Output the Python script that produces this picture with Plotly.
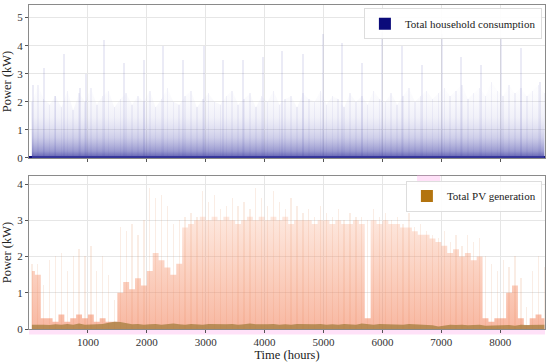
import plotly.graph_objects as go

# ---------------- data ----------------
bin_hours = [50 + 100 * i for i in range(88)]  # centre of each 100-hour bin

# household consumption: envelope of the dense body per 100-h bin (kW)
hh_body_kw = [2.0, 2.6, 2.1, 1.9, 2.2, 1.8, 2.4, 1.7, 2.3, 2.0,
              2.5, 1.9, 2.2, 2.4, 1.8, 2.1, 2.3, 1.9, 2.2, 2.0,
              2.4, 1.8, 2.1, 2.5, 2.0, 1.9, 2.2, 2.4, 1.8, 2.1,
              2.3, 2.0, 1.9, 2.2, 2.4, 1.9, 2.1, 2.3, 1.8, 2.2,
              2.0, 2.4, 1.9, 2.1, 2.2, 1.8, 2.3, 2.1, 2.0, 2.4,
              1.9, 2.2, 2.1, 1.8, 2.3, 2.0, 2.2, 1.9, 2.4, 2.1,
              2.0, 2.3, 1.9, 2.2, 2.5, 2.0, 2.2, 2.4, 2.1, 2.3,
              2.5, 2.2, 2.4, 2.6, 2.1, 2.3, 2.5, 2.2, 2.7, 2.4,
              2.2, 2.6, 2.3, 2.5, 2.2, 2.4, 2.6, 2.3]
hh_base_kw = [0.05] * 88

# tall isolated consumption spikes
hh_spike_hours = [68, 255, 441, 594, 866, 968, 1273, 1613, 1953, 2275,
                  2615, 2972, 3294, 3634, 3973, 4296, 4653, 4992, 5315, 5654,
                  5994, 6334, 6673, 7013, 7335, 7675, 8015, 8354, 8677]
hh_spike_kw = [2.6, 3.2, 2.2, 3.7, 2.5, 3.0, 4.2, 3.4, 3.5, 4.0,
               3.5, 4.0, 3.5, 3.5, 3.6, 3.8, 3.7, 4.4, 4.1, 3.4,
               4.5, 4.0, 3.3, 4.4, 3.6, 3.3, 4.3, 3.9, 2.7]

# PV generation: spike envelope and dense-fill height per 100-h bin (kW)
pv_peak_kw = [1.8, 1.8, 1.2, 1.9, 2.0, 2.1, 1.6, 2.0, 2.2, 2.0,
              2.3, 1.6, 2.0, 1.5, 0.8, 2.8, 2.7, 2.9, 2.6, 3.0,
              3.9, 3.6, 3.7, 3.4, 2.9, 3.0, 3.1, 3.2, 3.1, 3.8,
              3.5, 3.7, 3.3, 3.4, 3.6, 3.4, 3.5, 3.3, 3.9, 3.6,
              3.4, 3.8, 3.5, 3.3, 3.6, 3.4, 3.2, 3.3, 3.1, 3.4,
              3.2, 3.1, 3.3, 3.0, 3.2, 3.1, 3.1, 3.0, 3.3, 3.1,
              3.2, 3.0, 3.1, 2.9, 3.2, 2.8, 2.9, 2.7, 2.6, 2.5,
              2.7, 2.4, 2.6, 2.3, 2.6, 2.4, 2.5, 2.0, 1.8, 1.6,
              1.9, 1.7, 2.0, 1.4, 0.6, 1.6, 2.0, 1.7]
pv_dense_kw = [1.6, 1.5, 0.3, 0.3, 0.2, 0.4, 0.2, 0.3, 0.4, 0.3,
               0.4, 0.2, 0.3, 0.2, 0.2, 1.0, 1.3, 1.1, 1.4, 1.2,
               1.6, 2.1, 1.9, 1.7, 1.5, 1.8, 2.8, 2.9, 3.0, 3.1,
               3.0, 3.1, 3.0, 3.1, 3.0, 2.9, 3.0, 3.1, 3.0, 3.1,
               3.0, 3.1, 3.0, 3.1, 2.9, 3.0, 3.0, 3.0, 2.9, 3.0,
               3.0, 2.9, 3.0, 2.9, 2.9, 3.0, 2.9, 0.3, 3.0, 2.9,
               3.0, 2.9, 2.9, 2.8, 2.8, 2.7, 2.6, 2.6, 2.5, 2.4,
               2.3, 2.1, 2.2, 2.0, 2.1, 1.9, 2.0, 0.3, 0.2, 0.3,
               0.3, 1.0, 1.2, 0.3, 0.1, 0.3, 0.4, 0.3]
pv_base_kw = [0.12, 0.13, 0.12, 0.11, 0.13, 0.12, 0.14, 0.12, 0.15, 0.12,
              0.13, 0.12, 0.14, 0.17, 0.20, 0.19, 0.15, 0.13, 0.14, 0.12,
              0.13, 0.14, 0.12, 0.13, 0.15, 0.13, 0.12, 0.14, 0.13, 0.12,
              0.14, 0.13, 0.12, 0.13, 0.14, 0.12, 0.13, 0.15, 0.13, 0.12,
              0.13, 0.14, 0.12, 0.13, 0.12, 0.14, 0.13, 0.12, 0.13, 0.14,
              0.12, 0.13, 0.12, 0.14, 0.13, 0.12, 0.15, 0.13, 0.12, 0.14,
              0.13, 0.12, 0.13, 0.12, 0.14, 0.13, 0.12, 0.13, 0.10, 0.07,
              0.10, 0.12, 0.11, 0.12, 0.10, 0.11, 0.12, 0.09, 0.10, 0.09,
              0.10, 0.11, 0.09, 0.12, 0.11, 0.12, 0.13, 0.12]

x_ticks = [1000, 2000, 3000, 4000, 5000, 6000, 7000, 8000]
hh_y_ticks = [0, 1, 2, 3, 4, 5]
pv_y_ticks = [0, 1, 2, 3, 4]

# ---------------- figure ----------------
FONT = "Liberation Serif"
fig = go.Figure()

# --- household (top) ---
fig.add_trace(go.Scatter(
    x=bin_hours, y=hh_body_kw, mode="lines", line=dict(width=0),
    fill="tozeroy", xaxis="x", yaxis="y", showlegend=False, hoverinfo="skip",
    fillgradient=dict(type="vertical", start=0, stop=2.4,
                      colorscale=[[0, "rgba(60,60,160,0.85)"],
                                  [0.1, "rgba(85,85,175,0.60)"],
                                  [0.3, "rgba(120,120,195,0.36)"],
                                  [0.6, "rgba(165,165,215,0.16)"],
                                  [1, "rgba(210,210,238,0.05)"]])))
fig.add_trace(go.Bar(
    x=bin_hours, y=hh_body_kw, width=26, xaxis="x", yaxis="y",
    marker=dict(color="rgba(30,30,150,0.06)", line=dict(width=0)),
    showlegend=False, hoverinfo="skip"))
fig.add_trace(go.Bar(
    x=hh_spike_hours, y=hh_spike_kw, width=22, xaxis="x", yaxis="y",
    marker=dict(color="rgba(30,30,150,0.09)", line=dict(width=0)),
    showlegend=False, hoverinfo="skip"))
fig.add_trace(go.Bar(
    x=bin_hours, y=hh_base_kw, width=100, xaxis="x", yaxis="y",
    marker=dict(color="#0b0b7a", line=dict(width=0)),
    name="Total household consumption", legend="legend"))

# --- PV (bottom) ---
fig.add_trace(go.Scatter(
    x=bin_hours, y=pv_dense_kw, mode="lines", line=dict(width=0, shape="hvh"),
    fill="tozeroy", xaxis="x2", yaxis="y2", showlegend=False, hoverinfo="skip",
    fillgradient=dict(type="vertical", start=0, stop=3.2,
                      colorscale=[[0, "rgba(242,125,85,0.55)"],
                                  [0.5, "rgba(245,140,100,0.40)"],
                                  [1, "rgba(248,165,130,0.25)"]])))
fig.add_trace(go.Bar(
    x=bin_hours, y=pv_peak_kw, width=22, xaxis="x2", yaxis="y2",
    marker=dict(color="rgba(225,150,100,0.17)", line=dict(width=0)),
    showlegend=False, hoverinfo="skip"))
fig.add_trace(go.Scatter(
    x=bin_hours, y=pv_base_kw, mode="lines", line=dict(width=0),
    fill="tozeroy", fillcolor="rgba(150,115,45,0.65)",
    xaxis="x2", yaxis="y2", showlegend=False, hoverinfo="skip"))
fig.add_trace(go.Bar(
    x=[None], y=[None], xaxis="x2", yaxis="y2",
    marker=dict(color="#b3740f", line=dict(width=0)),
    name="Total PV generation", legend="legend2"))

axis_common = dict(showline=True, linecolor="#8a8a8a", linewidth=1.2, mirror=True,
                   showgrid=True, gridcolor="#e6e6e6", gridwidth=1,
                   ticks="outside", ticklen=3, tickcolor="#555",
                   tickfont=dict(family=FONT, size=11, color="#333"),
                   zeroline=False, automargin=False)

title_font = dict(family=FONT, size=12.5, color="#222")
legend_common = dict(xanchor="right", yanchor="top", itemwidth=30,
                     bgcolor="rgba(255,255,255,0.9)", bordercolor="#dddddd", borderwidth=1,
                     font=dict(family=FONT, size=11, color="#222"),
                     tracegroupgap=0)

fig.update_layout(
    width=550, height=363,
    margin=dict(l=29, r=5, t=5, b=34, autoexpand=False),
    paper_bgcolor="white", plot_bgcolor="white",
    barmode="overlay", bargap=0,
    font=dict(family=FONT, size=11, color="#222"),
    xaxis=dict(domain=[0, 1], anchor="y", range=[0, 8760], tickvals=x_ticks,
               showticklabels=False, **axis_common),
    yaxis=dict(domain=[0.528, 1], anchor="x", range=[0, 5.45], tickvals=hh_y_ticks,
               title=dict(text="Power (kW)", font=title_font, standoff=4), **axis_common),
    xaxis2=dict(domain=[0, 1], anchor="y2", range=[0, 8760], tickvals=x_ticks,
                title=dict(text="Time (hours)", font=title_font, standoff=2), **axis_common),
    yaxis2=dict(domain=[0, 0.472], anchor="x2", range=[0, 4.22], tickvals=pv_y_ticks,
                title=dict(text="Power (kW)", font=title_font, standoff=4), **axis_common),
    legend=dict(x=0.994, y=0.99, **legend_common),
    legend2=dict(x=0.994, y=0.458, **legend_common),
    shapes=[
        dict(type="rect", xref="paper", yref="paper", x0=0, x1=1, y0=-0.017, y1=-0.003,
             fillcolor="rgba(255,170,235,0.35)", line=dict(width=0), layer="below"),
        dict(type="rect", xref="paper", yref="paper", x0=0.752, x1=0.797, y0=0.449, y1=0.475,
             fillcolor="rgba(255,170,235,0.35)", line=dict(width=0), layer="above"),
    ],
)

# the page's default 8px body margin would shift the 550x363 figure; remove it
fig.write_html("out.html", config={"displayModeBar": False},
               post_script="document.body.style.margin='0px';")
